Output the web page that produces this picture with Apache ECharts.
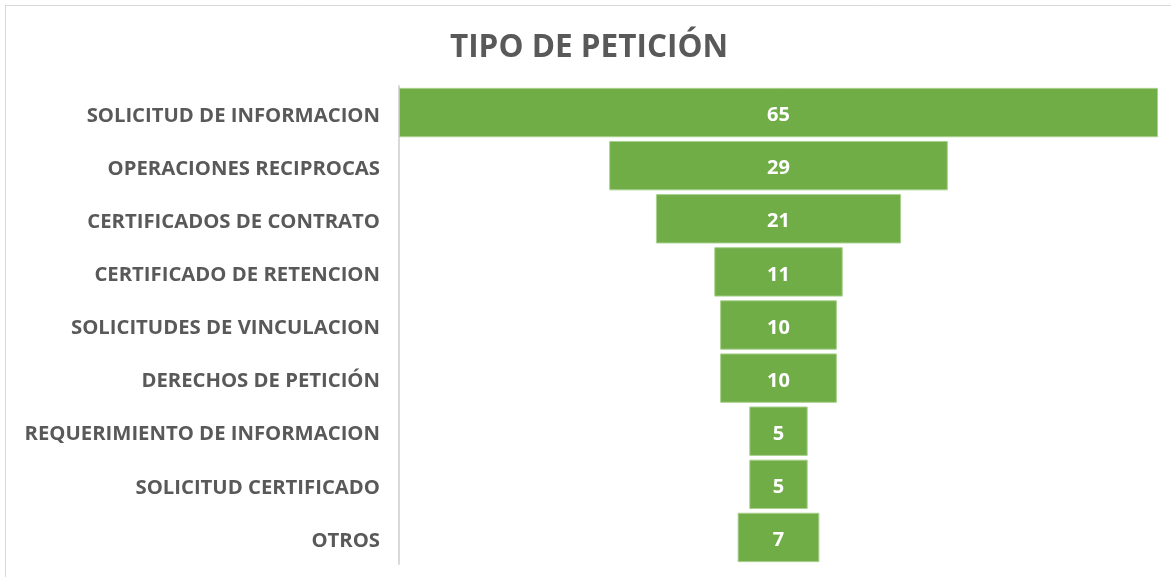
<!DOCTYPE html>
<html>
<head>
<meta charset="utf-8">
<script src="https://cdn.jsdelivr.net/npm/echarts@6/dist/echarts.min.js"></script>
<style>
  html, body { margin: 0; padding: 0; background: #fff; }
  #chart { width: 1171px; height: 577px; }
</style>
</head>
<body>
<div id="chart"></div>
<script>
// --- datos ---
const categories = [
  'SOLICITUD DE INFORMACION',
  'OPERACIONES RECIPROCAS',
  'CERTIFICADOS DE CONTRATO',
  'CERTIFICADO DE RETENCION',
  'SOLICITUDES DE VINCULACION',
  'DERECHOS DE PETICIÓN',
  'REQUERIMIENTO DE INFORMACION',
  'SOLICITUD CERTIFICADO',
  'OTROS'
];
const values = [65, 29, 21, 11, 10, 10, 5, 5, 7];

const FONT = '"Open Sans", "Noto Sans", sans-serif';
const GREEN = '#70ad47';
const GREY_TEXT = '#595959';
const LINE = '#d9d9d9';

// el embudo se centra: desplazamiento invisible a la izquierda de cada barra
const maxVal = Math.max(...values);
const offsets = values.map(v => (maxVal - v) / 2);

const chart = echarts.init(document.getElementById('chart'));

chart.setOption({
  backgroundColor: '#fff',
  animation: false,
  title: {
    text: 'TIPO DE PETICIÓN',
    left: 584,
    textAlign: 'center',
    top: 27,
    textStyle: { fontFamily: FONT, fontSize: 31.5, fontWeight: 'bold', color: GREY_TEXT }
  },
  graphic: [
    { type: 'line', shape: { x1: 5, y1: 5.5, x2: 1171, y2: 5.5 }, style: { stroke: LINE, lineWidth: 1 } },
    { type: 'line', shape: { x1: 5.5, y1: 5, x2: 5.5, y2: 577 }, style: { stroke: LINE, lineWidth: 1 } }
  ],
  grid: { left: 399, right: 13, top: 86, bottom: 13, containLabel: false },
  xAxis: {
    type: 'value',
    min: 0,
    max: maxVal,
    show: false
  },
  yAxis: {
    type: 'category',
    inverse: true,
    data: categories,
    axisLine: { show: true, lineStyle: { color: LINE, width: 2 } },
    axisTick: { show: false },
    splitLine: { show: false },
    axisLabel: {
      margin: 19,
      formatter: v => '{l|' + v + '}',
      rich: {
        l: {
          fontFamily: FONT,
          fontSize: 20.3,
          fontWeight: 'bold',
          color: GREY_TEXT,
          padding: [7, 0, 0, 0]
        }
      }
    }
  },
  series: [
    {
      name: 'offset',
      type: 'bar',
      stack: 'f',
      data: offsets,
      itemStyle: { color: 'transparent' },
      silent: true,
      barCategoryGap: '7%'
    },
    {
      name: 'Tipo',
      type: 'bar',
      stack: 'f',
      data: values,
      barCategoryGap: '7%',
      itemStyle: { color: GREEN, borderColor: '#a9d18e', borderWidth: 1 },
      label: {
        show: true,
        position: 'inside',
        offset: [0, 3],
        fontFamily: FONT,
        fontSize: 20,
        fontWeight: 'bold',
        color: '#fff'
      }
    }
  ]
});
</script>
</body>
</html>
